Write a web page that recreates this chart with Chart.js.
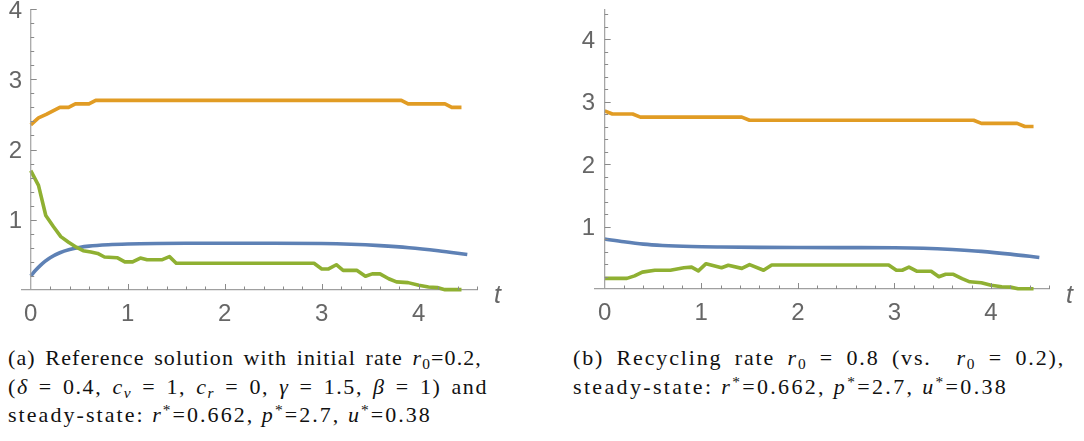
<!DOCTYPE html>
<html><head><meta charset="utf-8">
<script src="https://cdn.jsdelivr.net/npm/chart.js@4.4.0/dist/chart.umd.min.js"></script>
<style>
html,body{margin:0;padding:0;background:#fff;}
body{width:1084px;height:441px;overflow:hidden;position:relative}
canvas{position:absolute;top:-12px}
.tl{position:absolute;font-family:"Liberation Sans",sans-serif;font-style:italic;font-size:25px;color:#666;line-height:25px}
.cap{position:absolute;font-family:"Liberation Serif",serif;font-size:22px;line-height:28.6px;color:#111}
.cap div{white-space:nowrap}
.cap .j{text-align:justify;text-align-last:justify}
.sb{font-size:0.7em;vertical-align:-0.28em;line-height:0}
.sp{font-size:0.7em;vertical-align:0.45em;line-height:0}
</style></head>
<body>
<canvas id="ca" width="540" height="347" style="left:0"></canvas>
<canvas id="cb" width="524" height="347" style="left:560px"></canvas>
<div class="tl" style="left:494px;top:282px">t</div>
<div class="tl" style="left:1066px;top:282px">t</div>
<div class="cap" style="left:8px;top:344px;width:480px">
  <div class="j" data-w="474" data-share="0.75">(a) Reference solution with initial rate <i>r</i><span class="sb">0</span>=0.2,</div>
  <div class="j" data-w="480" data-share="0.6">(<i>δ</i> = 0.4, <i>c<span class="sb">v</span></i> = 1, <i>c<span class="sb">r</span></i> = 0, <i>γ</i> = 1.5, <i>β</i> = 1) and</div>
  <div data-w="424" data-share="1">steady-state: <i>r</i><span class="sp">*</span>=0.662, <i>p</i><span class="sp">*</span>=2.7, <i>u</i><span class="sp">*</span>=0.38</div>
</div>
<div class="cap" style="left:573px;top:344px;width:492px">
  <div class="j" data-w="492" data-share="0.6">(b) Recycling rate <i>r</i><span class="sb">0</span> = 0.8 (vs. &nbsp;<i>r</i><span class="sb">0</span> = 0.2),</div>
  <div data-w="435" data-share="1">steady-state: <i>r</i><span class="sp">*</span>=0.662, <i>p</i><span class="sp">*</span>=2.7, <i>u</i><span class="sp">*</span>=0.38</div>
</div>
<script>
// ---- Panel (a): r0 = 0.2 ----
const aTimeR = [0,0.05,0.1,0.15,0.2,0.3,0.4,0.5,0.6,0.8,1.0,1.3,1.6,2.0,2.5,3.0,3.3,3.6,3.9,4.2,4.5];
const aR     = [0.2,0.28,0.35,0.41,0.46,0.53,0.575,0.605,0.625,0.645,0.655,0.662,0.665,0.665,0.665,0.662,0.652,0.632,0.602,0.558,0.505];
const aTimeP = [0,0.08,0.16,0.23,0.30,0.39,0.46,0.60,0.67,3.82,3.89,4.27,4.34,4.44];
const aP     = [2.35,2.45,2.50,2.55,2.60,2.60,2.65,2.65,2.70,2.70,2.65,2.65,2.60,2.60];
const aTimeU = [0,0.08,0.155,0.235,0.31,0.39,0.47,0.54,0.62,0.69,0.76,0.89,0.97,1.05,1.13,1.2,1.35,1.43,1.5,2.92,3.0,3.07,3.15,3.22,3.36,3.45,3.52,3.60,3.69,3.77,3.89,4.0,4.1,4.19,4.27,4.44];
const aU     = [1.7,1.49,1.06,0.9,0.76,0.68,0.61,0.56,0.54,0.52,0.47,0.46,0.40,0.40,0.455,0.43,0.43,0.475,0.38,0.38,0.30,0.30,0.36,0.28,0.28,0.195,0.23,0.23,0.16,0.115,0.105,0.067,0.043,0.034,0.005,0.005];
// ---- Panel (b): r0 = 0.8 ----
const bTimeR = [0,0.2,0.4,0.6,0.9,1.2,1.6,2.0,2.5,3.0,3.3,3.6,3.9,4.2,4.5];
const bR     = [0.8,0.755,0.718,0.697,0.68,0.672,0.666,0.663,0.662,0.66,0.652,0.632,0.602,0.558,0.505];
const bTimeP = [0,0.08,0.29,0.37,1.42,1.50,3.82,3.90,4.27,4.35,4.44];
const bP     = [2.85,2.80,2.80,2.75,2.75,2.70,2.70,2.65,2.65,2.60,2.60];
const bTimeU = [0,0.23,0.31,0.39,0.52,0.68,0.82,0.90,0.97,1.05,1.21,1.28,1.42,1.50,1.645,1.73,2.94,3.02,3.08,3.15,3.23,3.38,3.46,3.53,3.61,3.70,3.78,3.90,4.0,4.11,4.2,4.28,4.44];
const bU     = [0.17,0.17,0.21,0.27,0.30,0.30,0.34,0.35,0.29,0.405,0.34,0.38,0.33,0.39,0.30,0.385,0.385,0.30,0.30,0.35,0.285,0.285,0.195,0.235,0.235,0.165,0.115,0.10,0.06,0.035,0.03,0.005,0.005];
// ---- Axes ----
const xTickLabels = [0,1,2,3,4];
const yTickLabels = [1,2,3,4];
const xMinorStep = 0.2, yMinorStep = 0.2;

const COLORS = {r:'#5E81B5', p:'#E19C24', u:'#8FB032'};
const pts = (ts, vs) => ts.map((t,i)=>({x:t,y:vs[i]}));

// caption lines: widen letter spacing so each line reaches its width (TeX-like wide serif)
document.querySelectorAll('.cap div[data-w]').forEach(el=>{
  const target = +el.dataset.w, share = +el.dataset.share;
  el.style.display = 'inline-block'; el.style.width = 'auto';
  const w = el.getBoundingClientRect().width;
  const n = el.textContent.replace(/\s+/g,' ').trim().length;
  const ls = Math.max(0, (target - w) * share / n);
  el.style.letterSpacing = ls.toFixed(2) + 'px';
  el.style.display = 'block'; el.style.width = target + 'px';
});

const tickPlugin = {
  id:'mmaTicks',
  afterDraw(chart){
    const ctx = chart.ctx, xs = chart.scales.x, ys = chart.scales.y;
    const ca = chart.chartArea;
    const x0 = xs.getPixelForValue(0), y0 = ys.getPixelForValue(0);
    ctx.save();
    ctx.strokeStyle = '#a0a0a0'; ctx.lineWidth = 1.2;
    ctx.beginPath(); ctx.moveTo(x0, y0); ctx.lineTo(x0, ca.top); ctx.stroke();
    ctx.strokeStyle = '#8a8a8a'; ctx.lineWidth = 1;
    ctx.beginPath();
    for (let k = 1; ; k++) {
      const v = k*xMinorStep; const px = xs.getPixelForValue(v);
      if (px > ca.right + 0.5) break;
      const major = Math.abs(v - Math.round(v)) < 1e-6;
      const len = major ? 6 : 3.5;
      ctx.moveTo(Math.round(px)+0.5, y0); ctx.lineTo(Math.round(px)+0.5, y0 - len);
    }
    for (let k = 1; ; k++) {
      const v = k*yMinorStep; const py = ys.getPixelForValue(v);
      if (py < ca.top - 0.5) break;
      const major = Math.abs(v - Math.round(v)) < 1e-6;
      const len = major ? 6 : 3.5;
      ctx.moveTo(x0, Math.round(py)+0.5); ctx.lineTo(x0 + len, Math.round(py)+0.5);
    }
    ctx.stroke();
    ctx.restore();
  }
};

function makeChart(id, tr, r, tp, p, tu, u, xmin, ymax, pad){
  const ds = (data, color) => ({data, borderColor:color, borderWidth:3.6, pointRadius:0, fill:false,
    clip:6, borderJoinStyle:'round', borderCapStyle:'butt'});
  const blue = ds(pts(tr, r), COLORS.r); blue.cubicInterpolationMode = 'monotone';
  return new Chart(document.getElementById(id), {
    type:'line',
    data:{datasets:[ds(pts(tu,u),COLORS.u), ds(pts(tp,p),COLORS.p), blue]},
    options:{
      responsive:false, animation:false, devicePixelRatio:1,
      layout:{padding:pad},
      plugins:{legend:{display:false}, tooltip:{enabled:false}},
      scales:{
        x:{type:'linear', min:xmin, max:4.6, position:{y:0},
          afterBuildTicks:s=>{ s.ticks = xTickLabels.map(v=>({value:v})); },
          grid:{display:false, drawTicks:false},
          border:{display:true, color:'#a0a0a0', width:1.2},
          ticks:{padding:10, color:'#666', font:{family:'Liberation Sans', size:24}, maxRotation:0, autoSkip:false,
            callback:v=>String(v)}},
        y:{type:'linear', min:0, max:ymax, position:{x:xmin},
          afterBuildTicks:s=>{ s.ticks = yTickLabels.map(v=>({value:v})); },
          grid:{display:false, drawTicks:false},
          border:{display:false},
          ticks:{padding:0, labelOffset:2, color:'#666', font:{family:'Liberation Sans', size:24}, autoSkip:false,
            callback:v=>String(v)}}
      }
    },
    plugins:[tickPlugin]
  });
}
makeChart('ca', aTimeR, aR, aTimeP, aP, aTimeU, aU, -0.09, 4.0, {left:22, right:63, top:21, bottom:45});
makeChart('cb', bTimeR, bR, bTimeP, bP, bTimeU, bU, -0.10, 4.48, {left:35, right:35, top:21, bottom:46});
</script>
</body></html>
